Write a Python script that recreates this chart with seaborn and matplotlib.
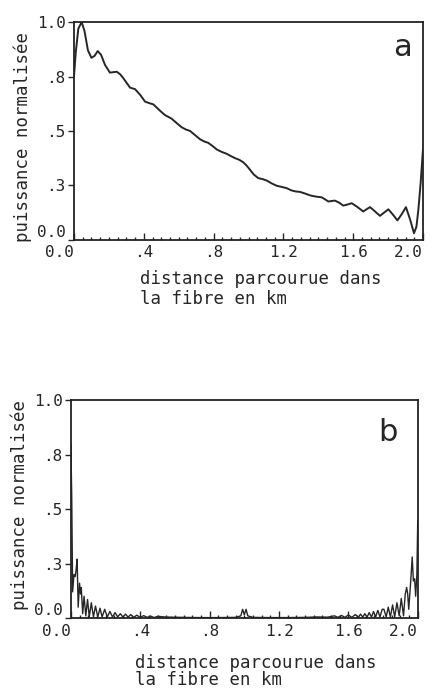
import numpy as np
import matplotlib
matplotlib.use("Agg")
import matplotlib.pyplot as plt
import seaborn as sns

# panel a : puissance normalisee le long de la fibre
dist_a = [0.000, 0.010, 0.025, 0.044, 0.060, 0.080, 0.100, 0.118, 0.136, 0.155,
          0.178, 0.206, 0.225, 0.245, 0.265, 0.283, 0.321, 0.350, 0.380, 0.407,
          0.430, 0.455, 0.490, 0.521, 0.540, 0.560, 0.590, 0.617, 0.640, 0.665,
          0.695, 0.722, 0.745, 0.770, 0.795, 0.818, 0.845, 0.875, 0.900, 0.923,
          0.948, 0.970, 0.990, 1.009, 1.030, 1.056, 1.080, 1.104, 1.135, 1.162,
          1.190, 1.219, 1.245, 1.270, 1.295, 1.325, 1.353, 1.381, 1.419, 1.440,
          1.457, 1.476, 1.495, 1.520, 1.543, 1.567, 1.591, 1.625, 1.657, 1.676,
          1.696, 1.725, 1.753, 1.777, 1.801, 1.828, 1.853, 1.878, 1.902, 1.925,
          1.948, 1.962, 1.973, 1.986, 2.000]
puiss_a = [0.750, 0.860, 0.970, 1.000, 0.960, 0.870, 0.836, 0.845, 0.867, 0.850,
           0.803, 0.768, 0.770, 0.772, 0.760, 0.742, 0.699, 0.692, 0.665, 0.635,
           0.628, 0.622, 0.595, 0.573, 0.565, 0.556, 0.535, 0.517, 0.507, 0.500,
           0.480, 0.462, 0.452, 0.445, 0.430, 0.415, 0.404, 0.395, 0.384, 0.375,
           0.367, 0.356, 0.340, 0.321, 0.300, 0.283, 0.279, 0.272, 0.258, 0.248,
           0.243, 0.237, 0.227, 0.222, 0.220, 0.212, 0.204, 0.199, 0.195, 0.185,
           0.176, 0.178, 0.180, 0.170, 0.157, 0.162, 0.168, 0.150, 0.130, 0.140,
           0.150, 0.130, 0.110, 0.125, 0.140, 0.115, 0.089, 0.118, 0.150, 0.095,
           0.030, 0.060, 0.138, 0.260, 0.420]

# panel b
dist_b = [0.000, 0.005, 0.010, 0.018, 0.025, 0.030, 0.036, 0.042, 0.050, 0.056,
          0.060, 0.068, 0.076, 0.086, 0.096, 0.106, 0.118, 0.130, 0.142, 0.155,
          0.168, 0.180, 0.195, 0.210, 0.225, 0.240, 0.255, 0.270, 0.285, 0.300,
          0.315, 0.330, 0.345, 0.362, 0.380, 0.400, 0.420, 0.440, 0.460, 0.480,
          0.500, 0.540, 0.580, 0.650, 0.750, 0.850, 0.950, 0.980, 0.990, 1.000,
          1.010, 1.020, 1.050, 1.150, 1.250, 1.350, 1.420, 1.480, 1.520, 1.540,
          1.560, 1.580, 1.600, 1.620, 1.640, 1.658, 1.670, 1.683, 1.695, 1.708,
          1.720, 1.733, 1.745, 1.757, 1.770, 1.782, 1.795, 1.805, 1.818, 1.830,
          1.842, 1.855, 1.867, 1.880, 1.893, 1.905, 1.918, 1.928, 1.936, 1.942,
          1.948, 1.956, 1.962, 1.968, 1.975, 1.982, 1.988, 1.995, 2.000]
puiss_b = [0.800, 0.550, 0.120, 0.200, 0.190, 0.220, 0.270, 0.050, 0.160, 0.110,
           0.140, 0.020, 0.100, 0.010, 0.085, 0.005, 0.070, 0.005, 0.055, 0.005,
           0.045, 0.005, 0.040, 0.005, 0.030, 0.005, 0.025, 0.005, 0.020, 0.004,
           0.018, 0.004, 0.016, 0.003, 0.013, 0.003, 0.011, 0.003, 0.009, 0.002,
           0.008, 0.005, 0.004, 0.003, 0.002, 0.002, 0.003, 0.010, 0.040, 0.015,
           0.040, 0.010, 0.003, 0.002, 0.002, 0.003, 0.005, 0.004, 0.010, 0.003,
           0.012, 0.003, 0.014, 0.003, 0.016, 0.003, 0.018, 0.004, 0.020, 0.004,
           0.025, 0.004, 0.030, 0.005, 0.035, 0.005, 0.040, 0.040, 0.005, 0.050,
           0.005, 0.060, 0.005, 0.070, 0.010, 0.090, 0.010, 0.110, 0.140, 0.110,
           0.040, 0.130, 0.200, 0.280, 0.170, 0.180, 0.100, 0.200, 0.450]

xticks = [0.0, 0.4, 0.8, 1.2, 1.6, 2.0]
xtick_labels = ["0.0", ".4", ".8", "1.2", "1.6", "2.0"]
yticks = [0.0, 0.25, 0.5, 0.75, 1.0]
ytick_labels = ["0.0", ".3", ".5", ".8", "1.0"]

sns.set_style("ticks")
plt.rcParams['font.family'] = ['DejaVu Sans Mono', 'DejaVu Sans']

fig = plt.figure(figsize=(4.43, 6.91), dpi=100)
ax_a = fig.add_axes([0.167, 0.653, 0.788, 0.315])
ax_b = fig.add_axes([0.160, 0.1056, 0.783, 0.3155])

col = '#262626'
sns.lineplot(x=dist_a, y=puiss_a, ax=ax_a, color=col, linewidth=1.4)
sns.lineplot(x=dist_b, y=puiss_b, ax=ax_b, color=col, linewidth=1.0)

panels = [(ax_a, 'a', (0.94, 0.885), (0.189, -0.14), 1.15, 0.47),
          (ax_b, 'b', (0.914, 0.853), (0.184, -0.165), 0.95, 0.52)]
for ax, letter, lpos, xlpos, lsp, ylc in panels:
    ax.set_xlim(0, 2.0)
    ax.set_ylim(0, 1.0)
    for s in ax.spines.values():
        s.set_visible(True)
        s.set_linewidth(1.3)
        s.set_color('#222222')
    ax.set_xticks(xticks)
    ax.set_xticklabels(xtick_labels, fontsize=11.5)
    lbls = ax.get_xticklabels()
    lbls[0].set_ha('right')
    lbls[-1].set_ha('right')
    ax.set_xticks(np.arange(0, 2.001, 0.05), minor=True)
    ax.tick_params(axis='x', which='major', direction='in', length=5, width=1, pad=4)
    ax.tick_params(axis='x', which='minor', direction='in', length=2.5, width=1)
    ax.set_yticks(yticks)
    ax.set_yticklabels(ytick_labels, fontsize=11.5)
    ax.get_yticklabels()[0].set_va('bottom')
    ax.tick_params(axis='y', direction='out', length=4, width=1, pad=2)
    ax.set_ylabel("puissance normalisée", fontsize=12.5)
    ax.yaxis.set_label_coords(-0.12, ylc)
    ax.set_xlabel("distance parcourue dans\nla fibre en km", fontsize=12.5,
                  ha='left', linespacing=lsp)
    ax.xaxis.set_label_coords(*xlpos)
    ax.text(lpos[0], lpos[1], letter, transform=ax.transAxes, fontsize=22,
            family='DejaVu Sans', ha='center', va='center')

fig.savefig("out.png", dpi=100)
